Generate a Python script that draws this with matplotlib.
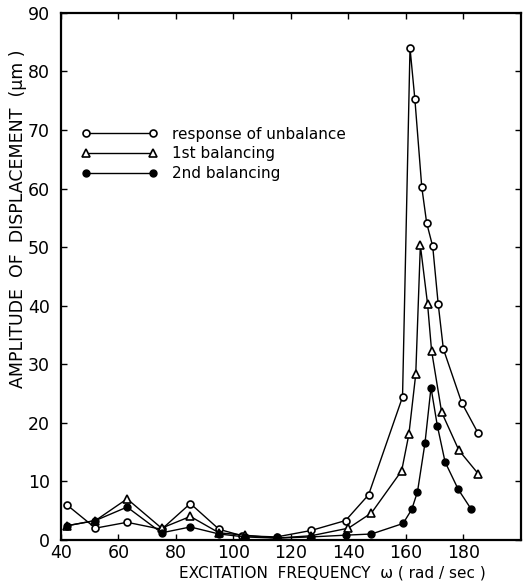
import matplotlib
matplotlib.use("Agg")
import matplotlib.pyplot as plt

# ---- data ----
x_unbal = [42, 52, 63, 75, 85, 95, 103, 115, 127, 139, 147, 158.8, 161.4, 163.1, 165.5, 167.2, 169.3, 171.2, 173, 179.4, 185.1]
y_unbal = [6.0, 2.0, 3.0, 1.8, 6.2, 1.8, 0.7, 0.5, 1.6, 3.3, 7.7, 24.4, 84.0, 75.2, 60.2, 54.1, 50.1, 40.3, 32.6, 23.4, 18.2]

x_bal1 = [42, 52, 63, 75, 85, 95, 104, 115, 127, 140, 148, 158.5, 161, 163.4, 165, 167.5, 168.9, 172.4, 178.4, 185.1]
y_bal1 = [2.4, 3.3, 7.0, 2.0, 4.0, 1.2, 0.8, 0.3, 0.7, 2.0, 4.6, 11.8, 18.0, 28.3, 50.3, 40.3, 32.3, 21.8, 15.3, 11.3]

x_bal2 = [42, 52, 63, 75, 85, 95, 104, 115, 127, 139, 148, 159, 162, 164, 166.6, 168.7, 170.9, 173.6, 178.2, 182.6]
y_bal2 = [2.4, 3.3, 5.6, 1.2, 2.2, 1.0, 0.5, 0.3, 0.5, 0.8, 1.0, 2.8, 5.2, 8.2, 16.5, 26.0, 19.5, 13.3, 8.6, 5.3]

labels = ["response of unbalance", "1st balancing", "2nd balancing"]
xticks = [40, 60, 80, 100, 120, 140, 160, 180]
yticks = [0, 10, 20, 30, 40, 50, 60, 70, 80, 90]

fig = plt.figure(figsize=(5.30, 5.83), dpi=100)
ax = fig.add_axes([0.115, 0.074, 0.868, 0.904])

lw = 1.0
ax.plot(x_unbal, y_unbal, color="black", lw=lw, marker="o", ms=5,
        mfc="white", mec="black", mew=1.2, label=labels[0])
ax.plot(x_bal1, y_bal1, color="black", lw=lw, marker="^", ms=5.5,
        mfc="white", mec="black", mew=1.2, label=labels[1])
ax.plot(x_bal2, y_bal2, color="black", lw=lw, marker="o", ms=5,
        mfc="black", mec="black", label=labels[2])

ax.set_xlim(40, 200)
ax.set_ylim(0, 90)
ax.set_xticks(xticks)
ax.set_yticks(yticks)
ax.tick_params(direction="in", length=4, width=1, top=True, right=True,
               labelsize=12.5)
ax.tick_params(axis="y", pad=8)
ax.tick_params(axis="x", pad=3)
for s in ax.spines.values():
    s.set_linewidth(1.6)

ax.set_xlabel("EXCITATION  FREQUENCY  ω ( rad / sec )", fontsize=11)
ax.xaxis.set_label_coords(0.59, -0.049, transform=ax.transAxes)
ax.xaxis.label.set_va("top")
ax.set_ylabel("AMPLITUDE  OF  DISPLACEMENT  (µm )", fontsize=12.5)
ax.yaxis.set_label_coords(-0.073, 0.61)

leg = ax.legend(loc="upper left", bbox_to_anchor=(0.015, 0.81), frameon=False,
                handlelength=5.0, numpoints=2, fontsize=11, labelspacing=0.3,
                handletextpad=0.9)

fig.savefig("out.png", dpi=100)
